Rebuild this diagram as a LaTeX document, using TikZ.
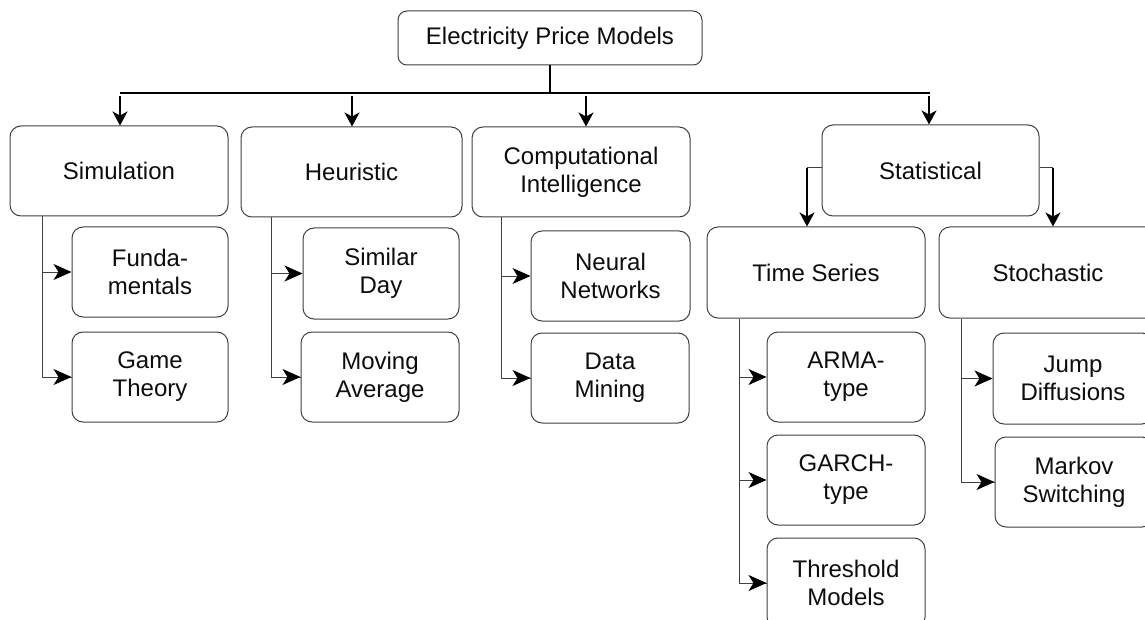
\documentclass[tikz,border=0pt]{standalone}
\usepackage{fontspec}
\setmainfont{Liberation Sans}
\usetikzlibrary{arrows.meta}

\begin{document}
\begin{tikzpicture}[x=0.5pt, y=-0.5pt,
  box/.style={draw=black!75, line width=0.5pt, rounded corners=5.5pt,
    align=center, inner sep=0pt, text=black!95,
    font=\fontsize{12pt}{14pt}\selectfont},
  bus/.style={draw=black, line width=1pt},
  downarrow/.style={draw=black, line width=0.9pt,
    -{Stealth[length=7pt, width=7.5pt, inset=2pt]}},
  trunk/.style={draw=black!75, line width=0.5pt},
  sidearrow/.style={draw=black!75, line width=0.5pt,
    -{Stealth[length=9pt, width=8pt, inset=2.5pt, color=black]}}
]
\useasboundingbox (0,0) rectangle (1145,620);
\clip (0,0) rectangle (1145,620);
\fill[white] (0,0) rectangle (1145,620);

% root and first level
\node[box, minimum width=152pt, minimum height=27pt, rounded corners=4.5pt] (root) at (550,38) {Electricity Price Models};
\node[box, minimum width=109pt, minimum height=45pt] (sim)  at (119,171)   {Simulation};
\node[box, minimum width=110.5pt, minimum height=45pt] (heu) at (351.5,172) {Heuristic};
\node[box, minimum width=109pt, minimum height=45pt] (comp) at (581,172)   {Computational\\Intelligence};
\node[box, minimum width=108.5pt, minimum height=45.5pt] (stat) at (930.5,170.5) {Statistical};

% children of the first level
\node[box, minimum width=78pt, minimum height=45pt] (fund) at (150,272)   {Funda-\\mentals};
\node[box, minimum width=78pt, minimum height=45pt] (game) at (150,377)   {Game\\Theory};
\node[box, minimum width=78pt, minimum height=45.5pt] (simday) at (381,273.5) {Similar\\Day};
\node[box, minimum width=79pt, minimum height=45pt] (movavg) at (380,377) {Moving\\Average};
\node[box, minimum width=79.5pt, minimum height=45pt] (neural) at (610.5,276) {Neural\\Networks};
\node[box, minimum width=79pt, minimum height=45pt] (mining) at (610,378) {Data\\Mining};

% statistical branch
\node[box, minimum width=109pt, minimum height=45.5pt] (ts)    at (816,272.5)  {Time Series};
\node[box, minimum width=109pt, minimum height=45.5pt] (stoch) at (1048,272.5) {Stochastic};
\node[box, minimum width=79pt, minimum height=45pt] (arma)   at (846,377) {ARMA-\\type};
\node[box, minimum width=79pt, minimum height=45pt] (garch)  at (846,480) {GARCH-\\type};
\node[box, minimum width=79pt, minimum height=45pt] (thresh) at (846,583) {Threshold\\Models};
\node[box, minimum width=80pt, minimum height=45.5pt] (jump)  at (1073,378.5) {Jump\\Diffusions};
\node[box, minimum width=79pt, minimum height=45pt] (markov) at (1074,482) {Markov\\Switching};

% top-level bus
\coordinate (busL) at (120,93);
\coordinate (busR) at (930,93);
\coordinate (a1) at (120,96);
\coordinate (a2) at (352,96);
\coordinate (a3) at (586,96);
\coordinate (a4) at (929,96);
\draw[bus] (root.south) -- (root.south |- busL);
\draw[bus] (busL) -- (busR);
\draw[downarrow] (a1) -- (a1 |- sim.north);
\draw[downarrow] (a2) -- (a2 |- heu.north);
\draw[downarrow] (a3) -- (a3 |- comp.north);
\draw[downarrow] (a4) -- (a4 |- stat.north);

% statistical split
\coordinate (sl) at (807,168);
\coordinate (sr) at (1053,168);
\draw[trunk] (stat.west |- sl) -- (sl);
\draw[downarrow] (sl) -- (sl |- ts.north);
\draw[trunk] (stat.east |- sr) -- (sr);
\draw[downarrow] (sr) -- (sr |- stoch.north);

% side trunks
\coordinate (t1) at (42,0);
\coordinate (t2) at (271,0);
\coordinate (t3) at (501,0);
\coordinate (t4) at (739,0);
\coordinate (t5) at (961,0);

\draw[trunk] (sim.south -| t1) |- (game.west);
\draw[sidearrow] (fund.west -| t1) -- (fund.west);
\draw[sidearrow] ([xshift=-10pt]game.west) -- (game.west);

\draw[trunk] (heu.south -| t2) |- (movavg.west);
\draw[sidearrow] (simday.west -| t2) -- (simday.west);
\draw[sidearrow] ([xshift=-10pt]movavg.west) -- (movavg.west);

\draw[trunk] (comp.south -| t3) |- (mining.west);
\draw[sidearrow] (neural.west -| t3) -- (neural.west);
\draw[sidearrow] ([xshift=-10pt]mining.west) -- (mining.west);

\draw[trunk] (ts.south -| t4) |- (thresh.west);
\draw[sidearrow] (arma.west -| t4) -- (arma.west);
\draw[sidearrow] (garch.west -| t4) -- (garch.west);
\draw[sidearrow] ([xshift=-10pt]thresh.west) -- (thresh.west);

\draw[trunk] (stoch.south -| t5) |- (markov.west);
\draw[sidearrow] (jump.west -| t5) -- (jump.west);
\draw[sidearrow] ([xshift=-10pt]markov.west) -- (markov.west);
\end{tikzpicture}
\end{document}
